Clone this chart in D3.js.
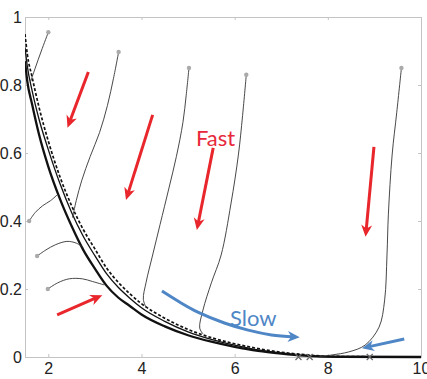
<!DOCTYPE html>
<html lang="en">
<head>
<meta charset="UTF-8">
<title>Fast / slow manifold</title>
<style>
  html, body { margin: 0; padding: 0; background: #fff; }
  svg { display: block; }
  .tick text { font-family: "Liberation Sans", Arial, sans-serif; font-size: 16px; fill: #222; }
</style>
</head>
<body>
<div id="chart"></div>
<script src="https://d3js.org/d3.v7.min.js"></script>
<script>
// ---- data ----
var xTicks = [2, 4, 6, 8, 10];
var yTicks = [0, 0.2, 0.4, 0.6, 0.8, 1];

// slow manifold: x grid and the three curves (thick, thin, dashed)
var curveX      = [1.5, 1.55, 1.65, 1.8, 2.0, 2.25, 2.5, 2.75, 3.0, 3.25, 3.5, 3.75, 4.0, 4.5, 5.0, 5.5, 6.0, 6.5, 7.0, 7.5, 8.0, 10];
var thickY      = [0.87, 0.81, 0.745, 0.655, 0.56, 0.465, 0.385, 0.315, 0.26, 0.21, 0.175, 0.15, 0.125, 0.09, 0.064, 0.045, 0.03, 0.018, 0.01, 0.004, 0.001, 0];
var thinY       = [0.91, 0.855, 0.785, 0.7, 0.61, 0.51, 0.425, 0.355, 0.298, 0.245, 0.205, 0.173, 0.145, 0.105, 0.074, 0.052, 0.035, 0.021, 0.012, 0.005, 0.001, 0];
var dashedY     = [0.95, 0.89, 0.825, 0.735, 0.635, 0.53, 0.445, 0.375, 0.318, 0.262, 0.22, 0.186, 0.157, 0.114, 0.081, 0.057, 0.039, 0.025, 0.014, 0.007, 0.002, 0];

// trajectories (first point = start dot)
var trajectories = [
  [[2.0,0.955],[1.85,0.9],[1.72,0.85],[1.62,0.81]],
  [[3.51,0.897],[3.4,0.82],[3.27,0.74],[3.1,0.66],[2.9,0.59],[2.72,0.52],[2.6,0.46],[2.52,0.41]],
  [[5.02,0.85],[4.96,0.77],[4.89,0.69],[4.75,0.59],[4.59,0.497],[4.4,0.39],[4.24,0.3],[4.1,0.22],[4.04,0.17],[4.1,0.145]],
  [[6.25,0.83],[6.17,0.71],[6.08,0.594],[5.92,0.45],[5.71,0.3],[5.5,0.218],[5.32,0.138],[5.25,0.085],[5.32,0.068]],
  [[9.58,0.85],[9.48,0.72],[9.38,0.594],[9.3,0.42],[9.27,0.3],[9.22,0.168],[9.1,0.088],[8.8,0.035],[8.45,0.015],[8.09,0.006],[7.8,0]],
  [[1.59,0.40],[1.72,0.425],[1.88,0.445],[2.05,0.46],[2.2,0.478]],
  [[1.76,0.297],[1.95,0.315],[2.15,0.33],[2.4,0.34],[2.6,0.335],[2.75,0.322]],
  [[1.99,0.2],[2.2,0.218],[2.45,0.23],[2.73,0.23],[2.95,0.222],[3.2,0.212]]
];
var endCrosses = [[7.37,0],[7.61,0],[8.9,0]];

// annotation arrows [tail ... tip]
var redArrows = [
  [[2.86,0.838],[2.45,0.688]],
  [[4.24,0.712],[3.70,0.476]],
  [[5.54,0.615],[5.21,0.388]],
  [[8.99,0.618],[8.82,0.368]],
  [[2.19,0.124],[3.06,0.176]]
];
var blueArrows = [
  [[4.44,0.194],[4.85,0.159],[5.21,0.132],[5.78,0.1],[6.29,0.079],[6.79,0.065],[7.29,0.059]],
  [[9.64,0.053],[8.84,0.029]]
];
var labels = [
  {text: "Fast", x: 5.17, y: 0.62, color: "#e8283a"},
  {text: "Slow", x: 5.9, y: 0.091, color: "#4f86c6"}
];

// ---- layout ----
var width = 427, height = 379;
var margin = {top: 17, right: 6, bottom: 22, left: 25};

var svg = d3.select("#chart").append("svg")
  .attr("width", width)
  .attr("height", height);

var x = d3.scaleLinear().domain([1.5, 10]).range([margin.left, width - margin.right]);
var y = d3.scaleLinear().domain([0, 1]).range([height - margin.bottom, margin.top]);

svg.append("clipPath").attr("id", "clip")
  .append("rect")
  .attr("x", margin.left).attr("y", margin.top - 2)
  .attr("width", x(10) - x(1.5)).attr("height", y(0) - y(1) + 4);

// frame with ticks on all sides (matlab box)
var frame = "#c4c4c4";
svg.append("g")
  .attr("transform", "translate(0," + y(0) + ")")
  .call(d3.axisBottom(x).tickValues(xTicks).tickSize(-3).tickPadding(6).tickFormat(d3.format("d")))
  .call(g => g.selectAll("line, path").attr("stroke", frame));
svg.append("g")
  .attr("transform", "translate(" + x(1.5) + ",0)")
  .call(d3.axisLeft(y).tickValues(yTicks).tickSize(-3).tickPadding(3).tickFormat(d => d === 0 || d === 1 ? d : d3.format(".1f")(d)))
  .call(g => g.selectAll("line, path").attr("stroke", frame));
svg.append("g")
  .attr("transform", "translate(0," + y(1) + ")")
  .call(d3.axisTop(x).tickValues(xTicks).tickSize(-3).tickFormat(""))
  .call(g => g.selectAll("line, path").attr("stroke", frame));
svg.append("g")
  .attr("transform", "translate(" + x(10) + ",0)")
  .call(d3.axisRight(y).tickValues(yTicks).tickSize(-3).tickFormat(""))
  .call(g => g.selectAll("line, path").attr("stroke", frame));

var plot = svg.append("g").attr("clip-path", "url(#clip)");

// manifold curves
var manifold = d3.line().x(d => x(d[0])).y(d => y(d[1])).curve(d3.curveMonotoneX);
function zipCurve(ys) { return curveX.map((v, i) => [v, ys[i]]); }

plot.append("path").datum(zipCurve(thickY))
  .attr("d", manifold).attr("fill", "none").attr("stroke", "#111").attr("stroke-width", 2.3);
plot.append("path").datum(zipCurve(thinY))
  .attr("d", manifold).attr("fill", "none").attr("stroke", "#111").attr("stroke-width", 1.3);
plot.append("path").datum(zipCurve(dashedY))
  .attr("d", manifold).attr("fill", "none").attr("stroke", "#111").attr("stroke-width", 1.7)
  .attr("stroke-dasharray", "3,2");

// trajectories
var traj = d3.line().x(d => x(d[0])).y(d => y(d[1])).curve(d3.curveCatmullRom);
plot.selectAll(".traj").data(trajectories).enter().append("path")
  .attr("class", "traj")
  .attr("d", traj)
  .attr("fill", "none")
  .attr("stroke", "#333")
  .attr("stroke-width", 0.9);

plot.selectAll(".start").data(trajectories).enter().append("circle")
  .attr("class", "start")
  .attr("cx", d => x(d[0][0]))
  .attr("cy", d => y(d[0][1]))
  .attr("r", 2.2)
  .attr("fill", "#aaa");

svg.selectAll(".cross").data(endCrosses).enter().append("path")
  .attr("class", "cross")
  .attr("transform", d => "translate(" + x(d[0]) + "," + y(d[1]) + ")")
  .attr("d", "M-3,-3L3,3M-3,3L3,-3")
  .attr("stroke", "#666")
  .attr("stroke-width", 1.2);

// arrowheads
var defs = svg.append("defs");
[["red", "#e8262b"], ["blue", "#4f86c6"]].forEach(function(c) {
  defs.append("marker")
    .attr("id", "head-" + c[0])
    .attr("viewBox", "-2 -6 14 12")
    .attr("refX", 6).attr("refY", 0)
    .attr("markerWidth", 14).attr("markerHeight", 12)
    .attr("markerUnits", "userSpaceOnUse")
    .attr("orient", "auto")
    .append("path")
    .attr("d", "M-1,-5.5L11,0L-1,5.5L2.5,0Z")
    .attr("fill", c[1]);
});

var arrowLine = d3.line().x(d => x(d[0])).y(d => y(d[1])).curve(d3.curveCatmullRom);
svg.selectAll(".red-arrow").data(redArrows).enter().append("path")
  .attr("class", "red-arrow")
  .attr("d", arrowLine)
  .attr("fill", "none")
  .attr("stroke", "#e8262b")
  .attr("stroke-width", 3)
  .attr("marker-end", "url(#head-red)");
svg.selectAll(".blue-arrow").data(blueArrows).enter().append("path")
  .attr("class", "blue-arrow")
  .attr("d", arrowLine)
  .attr("fill", "none")
  .attr("stroke", "#4f86c6")
  .attr("stroke-width", 3)
  .attr("marker-end", "url(#head-blue)");

svg.selectAll(".label").data(labels).enter().append("text")
  .attr("class", "label")
  .attr("x", d => x(d.x))
  .attr("y", d => y(d.y))
  .attr("fill", d => d.color)
  .attr("font-family", "Lato, 'Open Sans', sans-serif")
  .attr("font-size", 22)
  .text(d => d.text);
</script>
</body>
</html>
